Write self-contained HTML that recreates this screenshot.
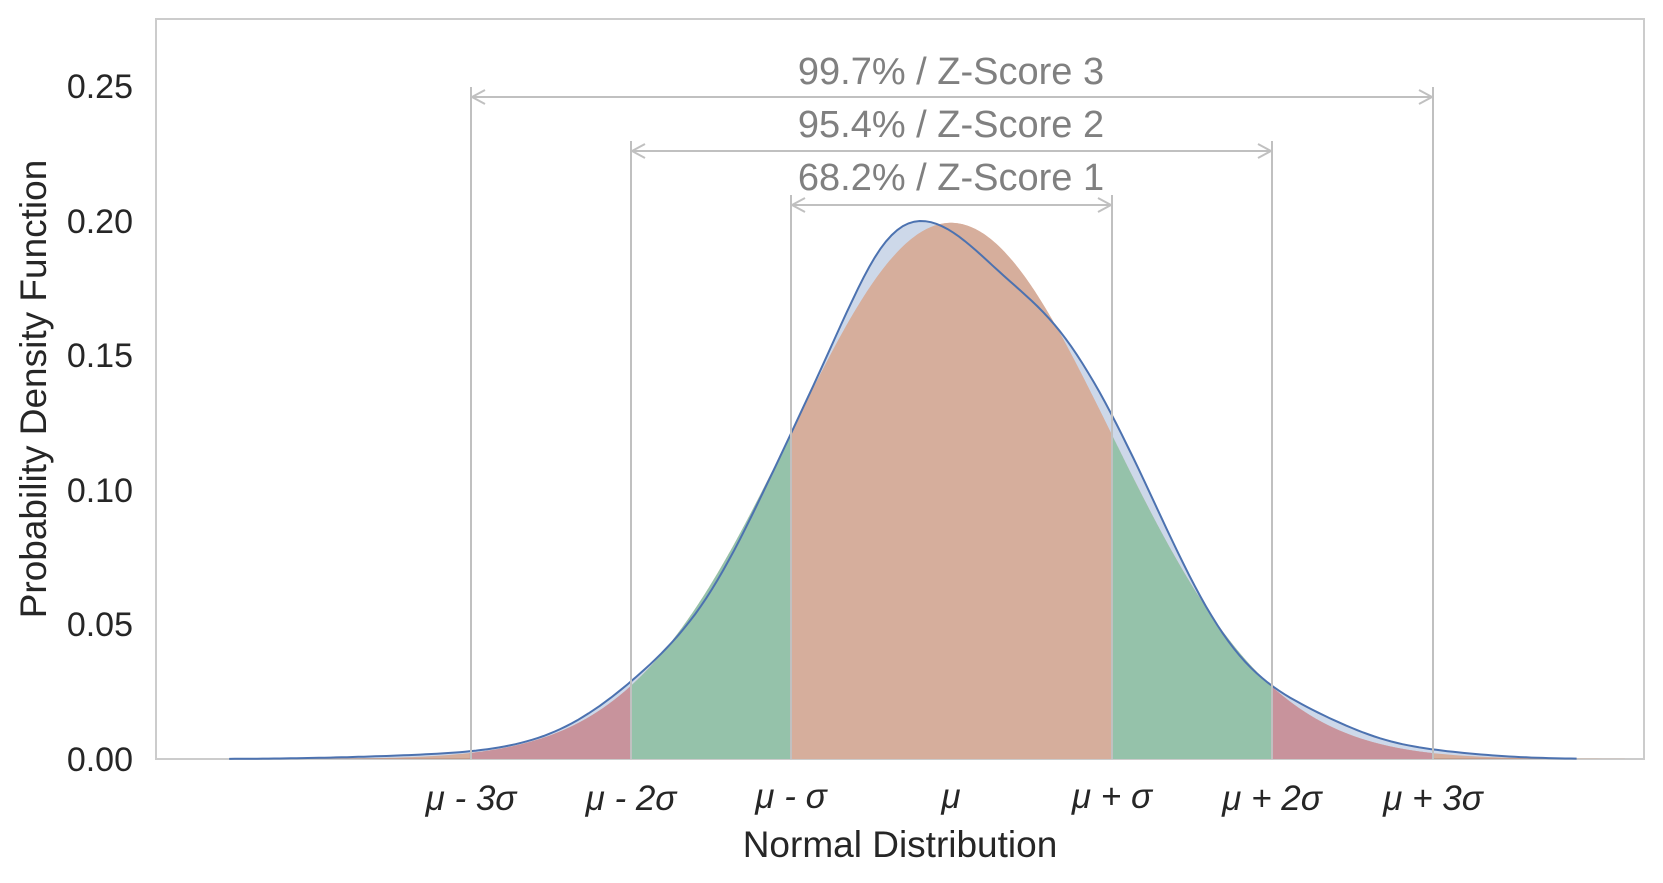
<!DOCTYPE html>
<html><head><meta charset="utf-8"><style>
html,body{margin:0;padding:0;background:#fff;}
svg{display:block;font-family:"Liberation Sans",sans-serif;}
</style></head><body>
<svg id="s" width="1663" height="883" viewBox="0 0 1663 883" xmlns="http://www.w3.org/2000/svg">
<rect x="156" y="19" width="1488" height="740" fill="#fff" stroke="#cccccc" stroke-width="2"/>
<g id="g"></g>
<g font-size="34" fill="#262626" text-anchor="end">
<text x="133" y="771">0.00</text>
<text x="133" y="636">0.05</text>
<text x="133" y="502">0.10</text>
<text x="133" y="367">0.15</text>
<text x="133" y="233">0.20</text>
<text x="133" y="98">0.25</text>
</g>
<g font-size="35" fill="#262626" text-anchor="middle" font-style="italic">
<text x="471" y="810">μ - 3σ</text>
<text x="631" y="810">μ - 2σ</text>
<text x="791" y="808">μ - σ</text>
<text x="951" y="808">μ</text>
<text x="1112" y="808">μ + σ</text>
<text x="1272" y="810">μ + 2σ</text>
<text x="1433" y="810">μ + 3σ</text>
</g>
<text x="900" y="857" font-size="37" fill="#262626" text-anchor="middle">Normal Distribution</text>
<text transform="translate(46,389) rotate(-90)" font-size="37" fill="#262626" text-anchor="middle">Probability Density Function</text>
<g font-size="38" fill="#808080" text-anchor="middle">
<text x="951" y="84">99.7% / Z-Score 3</text>
<text x="951" y="137">95.4% / Z-Score 2</text>
<text x="951" y="190">68.2% / Z-Score 1</text>
</g>
</svg>
<script>
const X0=951,S=160.4,Y0=759,K=2688;
const px=z=>X0+z*S, py=v=>Y0-v*K;
const phi=z=>Math.exp(-z*z/2)/Math.sqrt(2*Math.PI);
const nrm=z=>phi(z)/2;
const g=(z,m,s)=>Math.exp(-(z-m)*(z-m)/(2*s*s));
const kde=z=>nrm(z)+0.009*g(z,-0.4,0.22)-0.01*g(z,0.3,0.25)+0.008*g(z,1.1,0.35)-0.003*g(z,1.7,0.3)+0.003*g(z,2.3,0.3)+0.002*g(z,-2.0,0.3)-0.003*g(z,-1.5,0.25)+0.0008*g(z,-3.3,0.5)+0.0012*g(z,3.0,0.35);
function path(f,a,b,close){let d='';const n=240;for(let i=0;i<=n;i++){const z=a+(b-a)*i/n;d+=(i?'L':'M')+px(z).toFixed(1)+','+py(Math.max(0,f(z))).toFixed(1);}if(close)d+='L'+px(b).toFixed(1)+','+Y0+'L'+px(a).toFixed(1)+','+Y0+'Z';return d;}
let h='';
h+=`<path d="${path(kde,-4.5,3.9,true)}" fill="#4c72b0" fill-opacity="0.28"/>`;
h+=`<path d="${path(nrm,-4.2,4.2,true)}" fill="#dd8452" fill-opacity="0.5"/>`;
const segs=[[-3,-2,'#c8939c'],[-2,-1,'#95c2aa'],[-1,1,'#d6ae9c'],[1,2,'#95c2aa'],[2,3,'#c8939c']];
for(const[a,b,c]of segs)h+=`<path d="${path(nrm,a,b,true)}" fill="${c}"/>`;
h+=`<path d="${path(kde,-4.5,3.9,false)}" fill="none" stroke="#4c72b0" stroke-width="2"/>`;
const lines=[[471,1433,97],[631,1272,151],[791,1112,205]];
for(const[a,b,y]of lines){
h+=`<line x1="${a}" y1="${y-10}" x2="${a}" y2="${Y0}" stroke="#c0c0c0" stroke-width="2"/>`;
h+=`<line x1="${b}" y1="${y-10}" x2="${b}" y2="${Y0}" stroke="#c0c0c0" stroke-width="2"/>`;
h+=`<line x1="${a}" y1="${y}" x2="${b}" y2="${y}" stroke="#c0c0c0" stroke-width="2"/>`;
h+=`<path d="M${a+14},${y-7}L${a+1},${y}L${a+14},${y+7}M${b-14},${y-7}L${b-1},${y}L${b-14},${y+7}" fill="none" stroke="#c0c0c0" stroke-width="2"/>`;
}
document.getElementById('g').innerHTML=h;
</script>
</body></html>
